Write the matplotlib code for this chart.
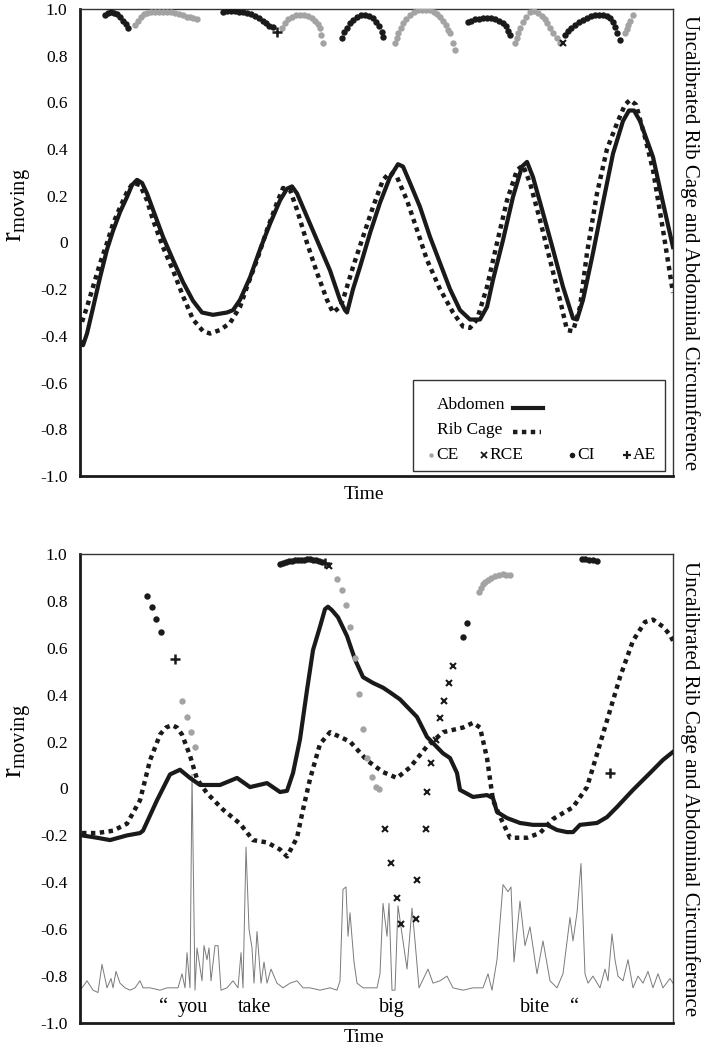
import matplotlib
matplotlib.use("Agg")
import matplotlib.pyplot as plt
from matplotlib.patches import Rectangle
from matplotlib.lines import Line2D

plt.rcParams['font.family'] = 'Liberation Serif'
plt.rcParams['mathtext.fontset'] = 'custom'
plt.rcParams['mathtext.rm'] = 'Liberation Serif'

# ---------------- top panel data (time in samples, r_moving) ----------------
top_abd_t = [2, 3, 7, 13, 20, 27, 33, 40, 47, 52, 57, 62, 67, 73, 83, 93, 103, 113,
             122, 133, 147, 153, 160, 170, 180, 190, 200, 207, 212, 217, 227, 240,
             250, 260, 265, 267, 273, 280, 290, 300, 310, 318, 323, 330, 340, 350,
             360, 370, 380, 390, 400, 407, 413, 423, 433, 442, 447, 453, 463, 473,
             483, 493, 497, 503, 513, 523, 533, 543, 549, 554, 560, 573, 583, 593]
top_abd_v = [-0.43, -0.44, -0.39, -0.28, -0.15, -0.03, 0.05, 0.13, 0.195, 0.246, 0.268,
             0.255, 0.21, 0.14, 0.024, -0.075, -0.17, -0.25, -0.30, -0.31, -0.30, -0.29,
             -0.246, -0.15, -0.03, 0.08, 0.18, 0.23, 0.24, 0.21, 0.11, -0.02, -0.12,
             -0.246, -0.29, -0.30, -0.20, -0.105, 0.04, 0.17, 0.28, 0.335, 0.325, 0.255,
             0.152, 0.024, -0.088, -0.20, -0.29, -0.33, -0.33, -0.276, -0.16, 0.01,
             0.195, 0.325, 0.345, 0.28, 0.126, -0.03, -0.19, -0.325, -0.33, -0.246,
             -0.045, 0.17, 0.38, 0.52, 0.565, 0.565, 0.52, 0.366, 0.17, -0.02]

top_rib_t = [2, 7, 13, 20, 27, 33, 40, 47, 53, 60, 67, 73, 83, 93, 103, 113, 123, 130,
             140, 150, 160, 167, 177, 187, 197, 203, 210, 217, 227, 237, 247, 253, 260,
             263, 273, 283, 293, 303, 310, 317, 327, 337, 347, 360, 373, 383, 390, 397,
             407, 417, 427, 437, 443, 450, 460, 470, 480, 487, 493, 500, 507, 517, 527,
             537, 545, 550, 556, 565, 573, 583, 593]
top_rib_v = [-0.34, -0.276, -0.19, -0.09, -0.002, 0.08, 0.15, 0.216, 0.255, 0.246, 0.18,
             0.096, -0.02, -0.12, -0.23, -0.33, -0.38, -0.39, -0.375, -0.345, -0.276,
             -0.19, -0.075, 0.054, 0.17, 0.233, 0.225, 0.14, -0.002, -0.13, -0.246,
             -0.30, -0.276, -0.246, -0.105, 0.024, 0.152, 0.268, 0.30, 0.28, 0.18, 0.054,
             -0.075, -0.20, -0.30, -0.36, -0.366, -0.33, -0.19, -0.002, 0.18, 0.31, 0.33,
             0.255, 0.096, -0.075, -0.246, -0.375, -0.38, -0.276, -0.045, 0.21, 0.40,
             0.51, 0.59, 0.61, 0.59, 0.45, 0.31, 0.054, -0.216]

top_ce_t = [55, 58, 61, 64, 67, 71, 75, 79, 83, 87, 91, 95, 99, 103, 107, 110, 113, 117,
            202, 205, 208, 212, 216, 220, 224, 228, 232, 235, 238, 240, 241, 243,
            315, 317, 318, 321, 323, 326, 330, 334, 338, 342, 346, 350, 354, 357, 360,
            363, 366, 368, 370, 373, 375,
            435, 437, 438, 440, 443, 446, 450, 454, 458, 462, 465, 467, 470, 473, 477, 480,
            545, 547, 548, 550, 553]
top_ce_v = [0.93, 0.95, 0.967, 0.977, 0.983, 0.986, 0.988, 0.988, 0.988, 0.987, 0.985,
            0.982, 0.978, 0.973, 0.966, 0.965, 0.962, 0.958,
            0.918, 0.94, 0.955, 0.967, 0.974, 0.976, 0.975, 0.97, 0.962, 0.95, 0.935,
            0.918, 0.89, 0.855,
            0.854, 0.875, 0.897, 0.92, 0.94, 0.958, 0.974, 0.987, 0.994, 0.996, 0.996,
            0.994, 0.988, 0.978, 0.965, 0.948, 0.93, 0.91, 0.897, 0.854, 0.824,
            0.854, 0.875, 0.897, 0.92, 0.944, 0.966, 0.985, 0.99, 0.983, 0.97, 0.955,
            0.94, 0.92, 0.897, 0.875, 0.854,
            0.897, 0.915, 0.93, 0.95, 0.974]

top_ci_t = [25, 28, 31, 34, 37, 40, 43, 46, 48,
            143, 147, 151, 155, 159, 163, 167, 171, 175, 179, 183, 186, 189, 193,
            262, 264, 267, 270, 273, 277, 281, 285, 289, 293, 296, 299, 302, 303,
            388, 391, 395, 399, 403, 407, 411, 415, 419, 423, 426, 428, 430,
            485, 488, 491, 495, 499, 503, 507, 511, 515, 519, 523, 527, 530, 533, 535,
            537, 540]
top_ci_v = [0.975, 0.982, 0.985, 0.983, 0.977, 0.965, 0.95, 0.935, 0.918,
            0.988, 0.989, 0.989, 0.989, 0.988, 0.986, 0.982, 0.977, 0.97, 0.961, 0.95,
            0.938, 0.926, 0.922,
            0.876, 0.9, 0.918, 0.938, 0.953, 0.966, 0.973, 0.974, 0.97, 0.96, 0.945,
            0.925, 0.9, 0.88,
            0.944, 0.95, 0.955, 0.958, 0.96, 0.96, 0.959, 0.955, 0.95, 0.94, 0.925,
            0.905, 0.889,
            0.889, 0.905, 0.918, 0.93, 0.942, 0.953, 0.962, 0.968, 0.972, 0.974, 0.974,
            0.968, 0.96, 0.945, 0.923, 0.897, 0.867]

top_rce_t = [483]
top_rce_v = [0.855]
top_ae_t = [197]
top_ae_v = [0.90]

# ---------------- bottom panel data ----------------
bot_abd_t = [2, 17, 30, 47, 60, 63, 77, 90, 100, 110, 120, 140, 157, 170, 187, 200,
             207, 213, 220, 227, 233, 240, 242, 245, 248, 252, 258, 267, 275, 283, 293,
             303, 310, 320, 337, 347, 363, 370, 377, 380, 393, 407, 413, 417, 427, 440,
             453, 467, 477, 487, 493, 500, 517, 527, 537, 553, 570, 583, 593]
bot_abd_v = [-0.20, -0.21, -0.22, -0.20, -0.19, -0.18, -0.05, 0.06, 0.08, 0.045, 0.015,
             0.015, 0.045, 0.006, 0.023, -0.015, -0.01, 0.066, 0.21, 0.42, 0.59, 0.69,
             0.72, 0.765, 0.775, 0.76, 0.73, 0.65, 0.55, 0.475, 0.45, 0.43, 0.41, 0.38,
             0.305, 0.22, 0.15, 0.13, 0.066, -0.006, -0.036, -0.028, -0.041, -0.10,
             -0.126, -0.147, -0.155, -0.155, -0.177, -0.186, -0.186, -0.155, -0.147,
             -0.122, -0.079, -0.006, 0.066, 0.122, 0.156]

bot_rib_t = [2, 17, 33, 47, 60, 70, 80, 86, 92, 97, 102, 110, 117, 127, 143, 160, 173,
             187, 200, 207, 217, 223, 230, 240, 250, 260, 270, 287, 303, 317, 330, 347,
             363, 383, 393, 400, 407, 413, 420, 430, 447, 460, 473, 493, 507, 513, 527,
             540, 553, 565, 573, 583, 590, 593]
bot_rib_v = [-0.19, -0.19, -0.18, -0.15, -0.05, 0.12, 0.23, 0.26, 0.27, 0.26, 0.23,
             0.14, 0.04, -0.02, -0.09, -0.15, -0.22, -0.23, -0.26, -0.29, -0.21, -0.09,
             0.04, 0.19, 0.24, 0.22, 0.20, 0.12, 0.07, 0.045, 0.09, 0.18, 0.24, 0.26,
             0.28, 0.26, 0.13, -0.05, -0.12, -0.21, -0.21, -0.19, -0.13, -0.08, 0.006,
             0.09, 0.29, 0.475, 0.63, 0.71, 0.72, 0.69, 0.655, 0.63]

bot_ce_t = [102, 107, 111, 115,
            257, 262, 266, 270, 275, 279, 283, 287, 292, 296, 299,
            399, 401, 403, 405, 408, 411, 415, 419, 423, 426, 430]
bot_ce_v = [0.373, 0.305, 0.241, 0.177,
            0.893, 0.846, 0.783, 0.689, 0.557, 0.403, 0.254, 0.13, 0.049, 0.006, -0.002,
            0.84, 0.856, 0.87, 0.88, 0.891, 0.898, 0.904, 0.91, 0.913, 0.912, 0.909]

bot_ci_t = [67, 72, 76, 81,
            200, 203, 206, 209, 212, 215, 218, 221, 224, 227, 230, 233, 236, 239, 242,
            383, 387,
            502, 505, 509, 513, 517]
bot_ci_v = [0.821, 0.774, 0.723, 0.667,
            0.957, 0.962, 0.966, 0.969, 0.971, 0.973, 0.974, 0.975, 0.976, 0.977,
            0.977, 0.976, 0.974, 0.97, 0.966,
            0.646, 0.706,
            0.979, 0.978, 0.975, 0.973, 0.97]

bot_rce_t = [249, 305, 311, 317, 321, 336, 337, 346, 347, 351, 356, 360, 364, 369, 373]
bot_rce_v = [0.949, -0.173, -0.318, -0.467, -0.578, -0.556, -0.39, -0.173, -0.015,
             0.109, 0.207, 0.301, 0.373, 0.45, 0.522]

bot_ae_t = [95, 245, 530]
bot_ae_v = [0.552, 0.962, 0.066]

# speech envelope
speech_t = [2, 7, 13, 18, 22, 27, 31, 33, 36, 40, 45, 50, 55, 60, 63, 70, 80, 87, 93,
            98, 102, 105, 107, 110, 112, 115, 117, 122, 124, 127, 129, 131, 135, 138,
            141, 147, 153, 158, 161, 163, 166, 169, 172, 174, 177, 181, 184, 187, 191,
            197, 203, 210, 217, 223, 230, 240, 250, 257, 260, 263, 266, 268, 270, 274,
            277, 283, 290, 297, 300, 303, 307, 309, 312, 315, 318, 322, 327, 332, 335,
            339, 348, 353, 360, 367, 373, 383, 393, 403, 408, 412, 417, 423, 428, 431,
            434, 440, 445, 450, 457, 463, 470, 477, 483, 490, 493, 497, 501, 505, 508,
            513, 520, 525, 528, 532, 535, 538, 543, 548, 553, 558, 563, 568, 573, 578,
            583, 590, 593]
speech_v = [-0.85, -0.82, -0.86, -0.87, -0.75, -0.85, -0.81, -0.85, -0.78, -0.83,
            -0.85, -0.86, -0.85, -0.82, -0.85, -0.85, -0.86, -0.85, -0.85, -0.85, -0.79,
            -0.85, -0.70, -0.85, 0.06, -0.86, -0.68, -0.82, -0.67, -0.73, -0.68, -0.82,
            -0.67, -0.67, -0.86, -0.85, -0.82, -0.85, -0.70, -0.85, -0.25, -0.60, -0.68,
            -0.83, -0.61, -0.83, -0.74, -0.83, -0.77, -0.83, -0.85, -0.83, -0.82, -0.85,
            -0.85, -0.86, -0.85, -0.86, -0.82, -0.43, -0.42, -0.63, -0.53, -0.74, -0.83,
            -0.85, -0.85, -0.85, -0.79, -0.49, -0.63, -0.49, -0.86, -0.86, -0.50, -0.62,
            -0.77, -0.51, -0.65, -0.85, -0.77, -0.83, -0.82, -0.80, -0.85, -0.86, -0.85,
            -0.85, -0.79, -0.86, -0.73, -0.41, -0.44, -0.42, -0.74, -0.48, -0.67, -0.59,
            -0.79, -0.65, -0.82, -0.85, -0.79, -0.55, -0.65, -0.53, -0.32, -0.79, -0.83,
            -0.80, -0.85, -0.77, -0.82, -0.62, -0.73, -0.80, -0.82, -0.73, -0.85, -0.80,
            -0.83, -0.78, -0.85, -0.79, -0.85, -0.81, -0.83]

words = ['\u201c', 'you', 'take', 'big', 'bite', '\u201c']
words_t = [83, 113, 175, 312, 455, 495]
words_v = [-0.955, -0.955, -0.955, -0.955, -0.955, -0.955]

yticks = [1.0, 0.8, 0.6, 0.4, 0.2, 0.0, -0.2, -0.4, -0.6, -0.8, -1.0]
ytick_labels = ['1.0', '0.8', '0.6', '0.4', '0.2', '0', '-0.2', '-0.4', '-0.6', '-0.8', '-1.0']

GRAY = '#a3a3a3'
BLACK = '#1a1a1a'
RIGHT_LABEL = 'Uncalibrated Rib Cage and Abdominal Circumference'

fig = plt.figure(figsize=(7.05, 10.5), dpi=100)
ax1 = fig.add_axes([0.1135, 0.5467, 0.8411, 0.4448])
ax2 = fig.add_axes([0.1135, 0.0257, 0.8411, 0.4467])


def style_axes(ax, label_y, time_y):
    ax.set_xlim(0, 593)
    ax.set_ylim(-1.0, 1.0)
    ax.set_xticks([])
    ax.set_yticks(yticks)
    ax.set_yticklabels(ytick_labels, fontsize=12.5)
    ax.tick_params(axis='y', length=0, pad=9)
    for side in ['left', 'bottom']:
        ax.spines[side].set_linewidth(2.0)
        ax.spines[side].set_color(BLACK)
    for side in ['top', 'right']:
        ax.spines[side].set_linewidth(1.0)
        ax.spines[side].set_color('#333333')
    ax.set_xlabel('Time', fontsize=14)
    ax.xaxis.set_label_coords(0.478, time_y)
    ax.set_ylabel(r'$\mathregular{r_{moving}}$', fontsize=21)
    ax.yaxis.set_label_coords(-0.08, label_y)
    ax.text(1.029, 0.5, RIGHT_LABEL, transform=ax.transAxes, rotation=270,
            ha='center', va='center', fontsize=15)


def markers(ax, ce, ci, rce, ae):
    ax.plot(ce[0], ce[1], 'o', color=GRAY, ms=4.6, mec='none', zorder=4)
    ax.plot(ci[0], ci[1], 'o', color=BLACK, ms=4.6, mec='none', zorder=4)
    ax.plot(rce[0], rce[1], 'x', color=BLACK, ms=5, mew=1.5, zorder=5)
    ax.plot(ae[0], ae[1], '+', color=BLACK, ms=6.5, mew=1.8, zorder=5)


# ---------------- top panel ----------------
ax1.plot(top_abd_t, top_abd_v, '-', color=BLACK, lw=3.0, zorder=3,
         solid_joinstyle='round')
ax1.plot(top_rib_t, top_rib_v, color=BLACK, lw=3.2, linestyle=(0, (1, 1)),
         dash_capstyle='butt', zorder=3)
markers(ax1, (top_ce_t, top_ce_v), (top_ci_t, top_ci_v),
        (top_rce_t, top_rce_v), (top_ae_t, top_ae_v))
style_axes(ax1, 0.58, -0.022)

# legend box drawn by hand (text first, sample after)
tr = ax1.transAxes
ax1.add_patch(Rectangle((0.5616, 0.0107), 0.4249, 0.1949, transform=tr, fill=False,
                        lw=1.0, ec='#333333', zorder=6))
ax1.text(0.602, 0.152, 'Abdomen', transform=tr, fontsize=12.5, va='center', zorder=7)
ax1.add_line(Line2D([0.730, 0.781], [0.1456, 0.1456], transform=tr, color=BLACK,
                    lw=3.0, zorder=7))
ax1.text(0.602, 0.0985, 'Rib Cage', transform=tr, fontsize=12.5, va='center', zorder=7)
ax1.add_line(Line2D([0.730, 0.777], [0.094, 0.094], transform=tr, color=BLACK, lw=3.2,
                    linestyle=(0, (1, 1)), dash_capstyle='butt', zorder=7))
leg_items = [('o', GRAY, 0.592, 'CE', 0.600, 3.2, 0),
             ('x', BLACK, 0.682, 'RCE', 0.690, 4.0, 1.3),
             ('o', BLACK, 0.830, 'CI', 0.838, 4.0, 0),
             ('+', BLACK, 0.922, 'AE', 0.933, 6.0, 1.6)]
for mk, col, mx, lab, lx, ms, mew in leg_items:
    ax1.add_line(Line2D([mx], [0.045], transform=tr, marker=mk, color=col, ms=ms,
                        mew=mew, mec=col if mew else 'none', linestyle='none', zorder=7))
    ax1.text(lx, 0.045, lab, transform=tr, fontsize=12.5, va='center', zorder=7)

# ---------------- bottom panel ----------------
ax2.plot(speech_t, speech_v, '-', color='#7a7a7a', lw=0.7, zorder=2)
ax2.plot(bot_abd_t, bot_abd_v, '-', color=BLACK, lw=3.0, zorder=3,
         solid_joinstyle='round')
ax2.plot(bot_rib_t, bot_rib_v, color=BLACK, lw=3.2, linestyle=(0, (1, 1)),
         dash_capstyle='butt', zorder=3)
markers(ax2, (bot_ce_t, bot_ce_v), (bot_ci_t, bot_ci_v),
        (bot_rce_t, bot_rce_v), (bot_ae_t, bot_ae_v))
for w, t, v in zip(words, words_t, words_v):
    ax2.text(t, v, w, fontsize=14.5, ha='center', va='baseline')
style_axes(ax2, 0.60, -0.012)

fig.savefig('out.png', dpi=100)
